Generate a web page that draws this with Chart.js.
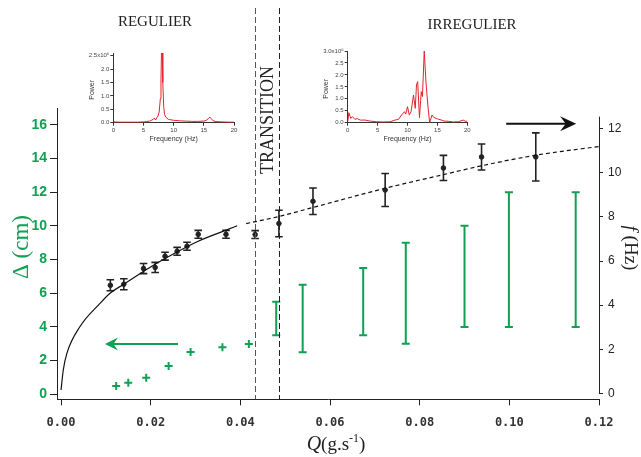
<!DOCTYPE html>
<html>
<head>
<meta charset="utf-8">
<script src="https://cdn.jsdelivr.net/npm/chart.js@4.4.1/dist/chart.umd.min.js"></script>
<style>
  html, body { margin: 0; padding: 0; background: #fff; }
  #wrap { position: relative; width: 641px; height: 457px; }
  #wrap canvas { position: absolute; }
</style>
</head>
<body>
<div id="wrap">
  <canvas id="mainChart" width="641" height="457" style="left:0;top:0"></canvas>
  <canvas id="inset1" width="175" height="110" style="left:75px;top:40px"></canvas>
  <canvas id="inset2" width="180" height="110" style="left:300px;top:40px"></canvas>
</div>
<script>
// dripping frequency f (Hz) vs flow rate Q (g/s), right axis
const freqQ = [0.0110, 0.0140, 0.0184, 0.0210, 0.0232, 0.0259, 0.0281, 0.0306, 0.0368, 0.0433, 0.0486, 0.0562, 0.0723, 0.0853, 0.0938, 0.1059];
const freqF = [4.90, 4.95, 5.66, 5.71, 6.22, 6.44, 6.67, 7.21, 7.21, 7.20, 7.70, 8.71, 9.22, 10.22, 10.72, 10.72];
const freqErr = [0.25, 0.25, 0.23, 0.23, 0.18, 0.18, 0.18, 0.18, 0.18, 0.18, 0.6, 0.6, 0.75, 0.57, 0.59, 1.09];

// fit through f (solid part, then dashed extension)
const fitQ = [0.0000, 0.0005, 0.0013, 0.0042, 0.0087, 0.0110, 0.0140, 0.0197, 0.0235, 0.0306, 0.0368, 0.0393];
const fitF = [0.15, 1.06, 1.81, 3.02, 4.08, 4.55, 4.95, 5.70, 6.15, 6.90, 7.40, 7.60];
const dashQ = [0.0413, 0.0486, 0.0562, 0.0723, 0.0853, 0.0938, 0.1059, 0.1202];
const dashF = [7.70, 8.02, 8.43, 9.30, 9.92, 10.32, 10.80, 11.20];

// Delta (cm), left axis
const plusQ = [0.0123, 0.0150, 0.0190, 0.0240, 0.0289, 0.0360, 0.0419];
const plusD = [0.49, 0.69, 0.98, 1.68, 2.51, 2.79, 2.99];
const barQ = [0.0480, 0.0539, 0.0674, 0.0769, 0.0900, 0.0999, 0.1148];
const barD = [4.5, 4.5, 5.5, 6.0, 7.0, 8.0, 8.0];
const barErr = [1.0, 2.0, 2.0, 3.0, 3.0, 4.0, 4.0];

const transitionQ = [0.0433, 0.0486];

const xTicks = [0, 0.02, 0.04, 0.06, 0.08, 0.10, 0.12];
const deltaTicks = [0, 2, 4, 6, 8, 10, 12, 14, 16];
const fTicks = [0, 2, 4, 6, 8, 10, 12];

// power spectra (x10^6) for the insets
const spec1Freq = [0, 1, 2, 3, 4, 5, 5.5, 6, 6.3, 6.6, 6.8, 7.0, 7.2, 7.4, 7.6, 7.8, 7.9, 8.0, 8.1, 8.2, 8.35, 8.5, 8.8, 9.2, 10, 11, 12, 13, 14, 15, 15.4, 15.8, 16.0, 16.2, 16.5, 17, 18, 19, 20];
const spec1Power = [0.03, 0.02, 0.02, 0.02, 0.02, 0.03, 0.04, 0.06, 0.09, 0.12, 0.17, 0.10, 0.18, 0.25, 0.40, 0.90, 1.60, 2.80, 2.80, 1.50, 0.60, 0.30, 0.18, 0.12, 0.09, 0.07, 0.06, 0.05, 0.05, 0.06, 0.09, 0.16, 0.21, 0.16, 0.08, 0.04, 0.03, 0.02, 0.02];
const spec2Freq = [0, 0.2, 0.5, 0.8, 1.2, 1.6, 2.1, 2.9, 3.7, 4.8, 6.0, 7.1, 7.9, 8.5, 9.0, 9.5, 9.7, 10.0, 10.3, 10.6, 11.0, 11.3, 11.5, 11.7, 12.0, 12.3, 12.5, 12.8, 13.1, 13.4, 13.7, 14.1, 14.4, 14.8, 15.2, 15.7, 16.1, 16.8, 17.7, 18.5, 19.3, 19.7, 20];
const spec2Power = [0.05, 0.42, 0.18, 0.25, 0.14, 0.17, 0.11, 0.11, 0.07, 0.04, 0.03, 0.04, 0.11, 0.14, 0.32, 0.46, 0.36, 0.67, 0.32, 0.46, 1.16, 0.60, 1.58, 1.72, 0.21, 1.30, 1.09, 3.00, 1.65, 0.74, 0.00, 0.32, 0.22, 0.18, 0.14, 0.11, 0.07, 0.06, 0.03, 0.04, 0.11, 0.06, 0.07];
const insetFreqTicks = [0, 5, 10, 15, 20];
const inset1PowerTicks = [0, 0.5, 1, 1.5, 2, 2.5];
const inset2PowerTicks = [0, 0.5, 1, 1.5, 2, 2.5, 3];

const green = "#10a052";
const red = "#e3242b";

function pts(xs, ys) {
    return xs.map((v, i) => ({ x: v, y: ys[i] }));
}

function drawBars(ctx, xs, ys, qs, vals, errs, color, width, cap) {
    ctx.strokeStyle = color;
    ctx.lineWidth = width;
    qs.forEach((q, i) => {
        const px = xs.getPixelForValue(q);
        const lo = ys.getPixelForValue(vals[i] - errs[i]);
        const hi = ys.getPixelForValue(vals[i] + errs[i]);
        ctx.beginPath();
        ctx.moveTo(px, lo); ctx.lineTo(px, hi);
        ctx.moveTo(px - cap, lo); ctx.lineTo(px + cap, lo);
        ctx.moveTo(px - cap, hi); ctx.lineTo(px + cap, hi);
        ctx.stroke();
    });
}

function arrow(ctx, x0, x1, yy, color, len, hw) {
    const dir = Math.sign(x1 - x0);
    ctx.strokeStyle = color;
    ctx.fillStyle = color;
    ctx.lineWidth = 2;
    ctx.beginPath();
    ctx.moveTo(x0, yy);
    ctx.lineTo(x1 - dir * len * 0.6, yy);
    ctx.stroke();
    ctx.beginPath();
    ctx.moveTo(x1, yy);
    ctx.lineTo(x1 - dir * len, yy - hw);
    ctx.lineTo(x1 - dir * len * 0.65, yy);
    ctx.lineTo(x1 - dir * len, yy + hw);
    ctx.closePath();
    ctx.fill();
}

const errorBars = {
    id: "errorBars",
    beforeDatasetsDraw(chart) {
        const ctx = chart.ctx;
        ctx.save();
        drawBars(ctx, chart.scales.x, chart.scales.yR, freqQ, freqF, freqErr, "#222", 1.6, 3.8);
        drawBars(ctx, chart.scales.x, chart.scales.y, barQ, barD, barErr, green, 2, 4);
        ctx.restore();
    }
};

const annotations = {
    id: "annotations",
    afterDraw(chart) {
        const { ctx, chartArea, scales } = chart;
        const x = scales.x;
        ctx.save();

        // right axis line only spans its tick range
        const rx = Math.round(chartArea.right) + 0.5;
        ctx.strokeStyle = "#222";
        ctx.lineWidth = 1;
        ctx.beginPath();
        ctx.moveTo(rx, scales.yR.getPixelForValue(0));
        ctx.lineTo(rx, scales.yR.getPixelForValue(12.55));
        ctx.stroke();

        // transition zone
        ctx.setLineDash([6, 3]);
        transitionQ.forEach((q, i) => {
            const px = Math.round(x.getPixelForValue(q)) + 0.5;
            ctx.strokeStyle = i === 0 ? "#555" : "#222";
            ctx.beginPath();
            ctx.moveTo(px, 8);
            ctx.lineTo(px, chartArea.bottom);
            ctx.stroke();
        });
        ctx.setLineDash([]);

        // which axis belongs to which data
        arrow(ctx, x.getPixelForValue(0.0261), x.getPixelForValue(0.0098), scales.y.getPixelForValue(2.98), green, 13, 6.5);
        arrow(ctx, x.getPixelForValue(0.0993), x.getPixelForValue(0.1149), scales.yR.getPixelForValue(12.23), "#111", 16, 7.5);

        ctx.fillStyle = "#222";
        ctx.textAlign = "center";
        ctx.textBaseline = "middle";
        ctx.font = '15px "Liberation Serif"';
        ctx.fillText("REGULIER", 155, 22);
        ctx.fillText("IRREGULIER", 472, 25);

        ctx.save();
        ctx.translate(268, 120);
        ctx.rotate(-Math.PI / 2);
        ctx.font = '18px "Liberation Serif"';
        ctx.fillText("TRANSITION", 0, 0);
        ctx.restore();

        // left axis title
        ctx.save();
        ctx.translate(22, 247);
        ctx.rotate(-Math.PI / 2);
        ctx.fillStyle = green;
        ctx.font = '23px "Liberation Serif"';
        ctx.fillText("\u0394 (cm)", 0, 0);
        ctx.restore();

        // right axis title
        ctx.save();
        ctx.translate(630, 248);
        ctx.rotate(Math.PI / 2);
        ctx.textAlign = "left";
        ctx.font = 'italic 19px "Liberation Serif"';
        const wf = ctx.measureText("f").width;
        ctx.font = '19px "Liberation Serif"';
        const wr = ctx.measureText(" (Hz)").width;
        let sx = -(wf + wr) / 2;
        ctx.font = 'italic 19px "Liberation Serif"';
        ctx.fillText("f", sx, 0);
        ctx.font = '19px "Liberation Serif"';
        ctx.fillText(" (Hz)", sx + wf, 0);
        ctx.restore();

        // bottom axis title
        ctx.textAlign = "left";
        ctx.textBaseline = "alphabetic";
        const parts = [
            { t: "Q", f: 'italic 20px "Liberation Serif"', dy: 0 },
            { t: "(g.s", f: '19px "Liberation Serif"', dy: 0 },
            { t: "-1", f: '12px "Liberation Serif"', dy: -8 },
            { t: ")", f: '19px "Liberation Serif"', dy: 0 }
        ];
        let total = 0;
        parts.forEach(p => { ctx.font = p.f; p.w = ctx.measureText(p.t).width; total += p.w; });
        let cx = 336 - total / 2;
        parts.forEach(p => { ctx.font = p.f; ctx.fillText(p.t, cx, 450 + p.dy); cx += p.w; });

        ctx.restore();
    }
};

new Chart(document.getElementById("mainChart"), {
    type: "scatter",
    data: {
        datasets: [
            {
                type: "line",
                data: pts(fitQ, fitF),
                yAxisID: "yR",
                borderColor: "#111",
                borderWidth: 1.2,
                pointRadius: 0,
                cubicInterpolationMode: "monotone"
            },
            {
                type: "line",
                data: pts(dashQ, dashF),
                yAxisID: "yR",
                borderColor: "#111",
                borderWidth: 1.2,
                borderDash: [4, 3],
                pointRadius: 0,
                cubicInterpolationMode: "monotone"
            },
            {
                data: pts(freqQ, freqF),
                yAxisID: "yR",
                pointRadius: 2.3,
                backgroundColor: "#222",
                borderColor: "#222"
            },
            {
                data: pts(plusQ, plusD),
                yAxisID: "y",
                pointStyle: "cross",
                pointRadius: 4,
                borderWidth: 2,
                borderColor: green
            }
        ]
    },
    options: {
        responsive: false,
        animation: false,
        layout: { padding: { top: 108, left: 0, right: 0, bottom: 0 }, autoPadding: false },
        plugins: { legend: { display: false }, tooltip: { enabled: false } },
        scales: {
            x: {
                type: "linear",
                position: "bottom",
                min: -0.0009,
                max: 0.12,
                afterBuildTicks: s => { s.ticks = xTicks.map(v => ({ value: v })); },
                afterFit: s => { s.height = 57.7; },
                ticks: {
                    callback: v => Number(v).toFixed(2),
                    font: { family: "DejaVu Sans Mono", size: 12, weight: "bold" },
                    color: "#333",
                    padding: 10,
                    maxRotation: 0
                },
                grid: { drawOnChartArea: false, tickLength: 6, color: "#222" },
                border: { color: "#222" }
            },
            y: {
                position: "left",
                min: -0.3,
                max: 17,
                afterBuildTicks: s => { s.ticks = deltaTicks.map(v => ({ value: v })); },
                afterFit: s => { s.width = 57; },
                ticks: {
                    font: { family: "Liberation Sans", size: 14, weight: "bold" },
                    color: green,
                    padding: 3
                },
                grid: { drawOnChartArea: false, tickLength: 7, color: "#222" },
                border: { color: "#222" }
            },
            yR: {
                position: "right",
                min: -0.27,
                max: 12.94,
                afterBuildTicks: s => { s.ticks = fTicks.map(v => ({ value: v })); },
                afterFit: s => { s.width = 42; },
                ticks: {
                    font: { family: "Liberation Sans", size: 12 },
                    color: "#222",
                    padding: 5
                },
                grid: { drawOnChartArea: false, tickLength: 4, color: "#222" },
                border: { display: false }
            }
        }
    },
    plugins: [errorBars, annotations]
});

const insetTitles = {
    id: "insetTitles",
    afterDraw(chart) {
        const { ctx, chartArea } = chart;
        ctx.save();
        ctx.fillStyle = "#333";
        ctx.font = '7px "Liberation Sans"';
        ctx.textAlign = "center";
        ctx.textBaseline = "middle";
        ctx.fillText("Frequency (Hz)", (chartArea.left + chartArea.right) / 2, chartArea.bottom + 16.5);
        ctx.translate(chartArea.left - chart.options.powerOffset, (chartArea.top + chartArea.bottom) / 2 + 2);
        ctx.rotate(-Math.PI / 2);
        ctx.fillText("Power", 0, 0);
        ctx.restore();
    }
};

function makeInset(id, freq, power, yMax, yTicks, yWidth, padTop, padRight, powerOffset) {
    return new Chart(document.getElementById(id), {
        type: "line",
        data: {
            datasets: [{
                data: pts(freq, power),
                borderColor: red,
                borderWidth: 1,
                pointRadius: 0,
                tension: 0
            }]
        },
        options: {
            responsive: false,
            animation: false,
            powerOffset: powerOffset,
            layout: { padding: { top: padTop, right: padRight, left: 0, bottom: 0 }, autoPadding: false },
            plugins: { legend: { display: false }, tooltip: { enabled: false } },
            scales: {
                x: {
                    type: "linear",
                    min: 0,
                    max: 20,
                    afterBuildTicks: s => { s.ticks = insetFreqTicks.map(v => ({ value: v })); },
                    afterFit: s => { s.height = 27.3; },
                    ticks: { font: { family: "Liberation Sans", size: 6 }, color: "#444", padding: 1, maxRotation: 0 },
                    grid: { drawOnChartArea: false, tickLength: 3, color: "#333" },
                    border: { color: "#333" }
                },
                y: {
                    min: 0,
                    max: yMax,
                    afterBuildTicks: s => { s.ticks = yTicks.map(v => ({ value: v })); },
                    afterFit: s => { s.width = yWidth; },
                    ticks: {
                        font: { family: "Liberation Sans", size: 6 },
                        color: "#444",
                        padding: 1,
                        callback: v => v === yTicks[yTicks.length - 1] ? v.toFixed(1) + "x10\u2076" : v.toFixed(1)
                    },
                    grid: { drawOnChartArea: false, tickLength: 3, color: "#333" },
                    border: { color: "#333" }
                }
            }
        },
        plugins: [insetTitles]
    });
}

makeInset("inset1", spec1Freq, spec1Power, 2.6, inset1PowerTicks, 38.3, 13, 16, 21);
makeInset("inset2", spec2Freq, spec2Power, 3.0, inset2PowerTicks, 47.7, 11, 12.7, 22);
</script>
</body>
</html>
